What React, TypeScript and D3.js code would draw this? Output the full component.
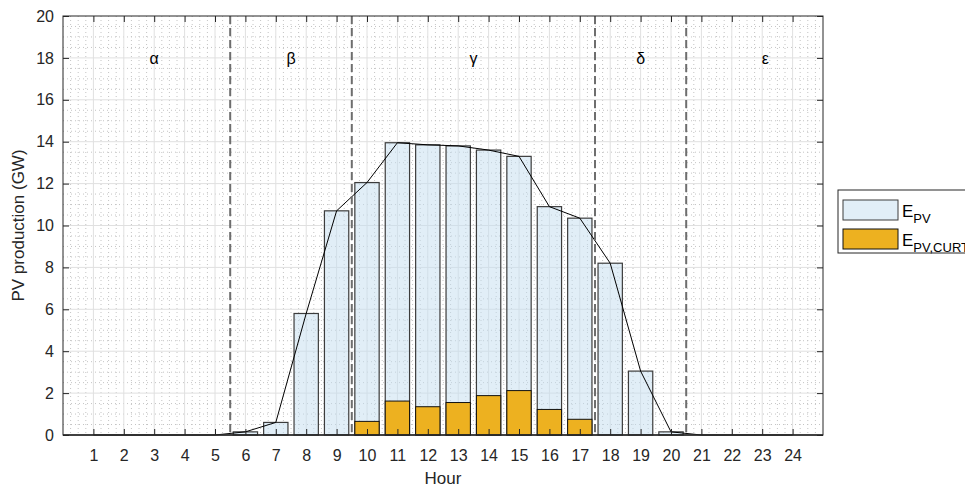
import React, { useRef, useEffect } from 'react';
import * as d3 from 'd3';

// hourly PV production (GW)
const hours = d3.range(1, 25);
const pvProduction = [0, 0, 0, 0, 0, 0.15, 0.6, 5.8, 10.7, 12.05, 13.95, 13.85, 13.8, 13.6, 13.3, 10.9, 10.35, 8.2, 3.05, 0.15, 0, 0, 0, 0];
const pvCurtailed = [0, 0, 0, 0, 0, 0, 0, 0, 0, 0.65, 1.62, 1.35, 1.55, 1.88, 2.12, 1.22, 0.75, 0, 0, 0, 0, 0, 0, 0];
const phaseBounds = [5.5, 9.5, 17.5, 20.5];
const phaseLabels = ['α', 'β', 'γ', 'δ', 'ε'];
const phaseLabelPos = [3, 7.5, 13.5, 19, 23.1];
const yTicks = d3.range(0, 21, 2);

const App = () => {
  const svgRef = useRef<SVGSVGElement>(null);

  useEffect(() => {
    if (!svgRef.current) return;
    const svg = d3.select(svgRef.current);
    svg.selectAll('*').remove();

    const width = 965;
    const height = 488;
    const margin = { top: 16, right: 142, bottom: 53, left: 63 };
    const innerWidth = width - margin.left - margin.right;
    const innerHeight = height - margin.top - margin.bottom;
    const font = 'Liberation Sans, Arial, sans-serif';
    const axisColor = '#262626';

    const g = svg.append('g').attr('transform', `translate(${margin.left},${margin.top})`);

    const xScale = d3.scaleLinear().domain([0, 25]).range([0, innerWidth]);
    const yScale = d3.scaleLinear().domain([0, 20]).range([innerHeight, 0]);
    const step = xScale(1) - xScale(0);
    const barWidth = step * 0.8;

    // minor grid (dotted)
    g.append('g')
      .selectAll('line')
      .data(d3.range(0.25, 25, 0.25).filter(v => Math.abs(v - Math.round(v)) > 0.01))
      .join('line')
      .attr('x1', d => xScale(d)).attr('x2', d => xScale(d))
      .attr('y1', 0).attr('y2', innerHeight)
      .attr('stroke', '#c4c4c4')
      .attr('stroke-width', 1)
      .attr('stroke-dasharray', '1,3');

    g.append('g')
      .selectAll('line')
      .data(d3.range(0.5, 20, 0.5).filter(v => v % 2 !== 0))
      .join('line')
      .attr('x1', 0).attr('x2', innerWidth)
      .attr('y1', d => yScale(d)).attr('y2', d => yScale(d))
      .attr('stroke', '#c4c4c4')
      .attr('stroke-width', 1)
      .attr('stroke-dasharray', '1,3');

    // major grid
    g.append('g')
      .selectAll('line')
      .data(d3.range(1, 25))
      .join('line')
      .attr('x1', d => xScale(d)).attr('x2', d => xScale(d))
      .attr('y1', 0).attr('y2', innerHeight)
      .attr('stroke', '#e0e0e0')
      .attr('stroke-width', 1);

    g.append('g')
      .selectAll('line')
      .data(yTicks.slice(1, -1))
      .join('line')
      .attr('x1', 0).attr('x2', innerWidth)
      .attr('y1', d => yScale(d)).attr('y2', d => yScale(d))
      .attr('stroke', '#e0e0e0')
      .attr('stroke-width', 1);

    // E_PV bars (translucent, grid shows through)
    g.append('g')
      .selectAll('rect')
      .data(hours.map((h, i) => ({ h, v: pvProduction[i] })).filter(d => d.v > 0))
      .join('rect')
      .attr('x', d => xScale(d.h) - barWidth / 2)
      .attr('y', d => yScale(d.v))
      .attr('width', barWidth)
      .attr('height', d => yScale(0) - yScale(d.v))
      .attr('fill', 'rgba(196,222,240,0.5)')
      .attr('stroke', '#3c3c3c')
      .attr('stroke-width', 1.2);

    // curtailed bars
    g.append('g')
      .selectAll('rect')
      .data(hours.map((h, i) => ({ h, v: pvCurtailed[i] })).filter(d => d.v > 0))
      .join('rect')
      .attr('x', d => xScale(d.h) - barWidth / 2)
      .attr('y', d => yScale(d.v))
      .attr('width', barWidth)
      .attr('height', d => yScale(0) - yScale(d.v))
      .attr('fill', '#EDB120')
      .attr('stroke', '#111')
      .attr('stroke-width', 1);

    // profile line through bar tops
    const line = d3.line<number>()
      .x((_, i) => xScale(hours[i]))
      .y(d => yScale(d));
    g.append('path')
      .datum(pvProduction)
      .attr('fill', 'none')
      .attr('stroke', '#000')
      .attr('stroke-width', 1)
      .attr('d', line);

    // phase boundaries
    g.append('g')
      .selectAll('line')
      .data(phaseBounds)
      .join('line')
      .attr('x1', d => xScale(d)).attr('x2', d => xScale(d))
      .attr('y1', 0).attr('y2', innerHeight)
      .attr('stroke', '#6e6e6e')
      .attr('stroke-width', 2)
      .attr('stroke-dasharray', '8,4');

    g.append('g')
      .selectAll('text')
      .data(phaseLabels)
      .join('text')
      .attr('x', (_, i) => xScale(phaseLabelPos[i]))
      .attr('y', yScale(18))
      .attr('dy', '0.35em')
      .attr('text-anchor', 'middle')
      .attr('font-family', font)
      .attr('font-size', 16)
      .attr('fill', '#000')
      .text(d => d);

    // axes (ticks inward, mirrored on top/right)
    const tickLen = 6;
    const styleAxis = (sel: any) => {
      sel.select('.domain').remove();
      sel.selectAll('line').attr('stroke', axisColor);
      sel.selectAll('text').attr('font-family', font).attr('font-size', 16).attr('fill', axisColor);
    };

    g.append('g')
      .attr('transform', `translate(0,${innerHeight})`)
      .call(d3.axisBottom(xScale).tickValues(hours).tickSize(-tickLen).tickPadding(15).tickFormat(d3.format('d')))
      .call(styleAxis);

    g.append('g')
      .call(d3.axisTop(xScale).tickValues(hours).tickSize(-tickLen).tickFormat(() => ''))
      .call(styleAxis);

    g.append('g')
      .call(d3.axisLeft(yScale).tickValues(yTicks).tickSize(-tickLen).tickPadding(9).tickFormat(d3.format('d')))
      .call(styleAxis);

    g.append('g')
      .attr('transform', `translate(${innerWidth},0)`)
      .call(d3.axisRight(yScale).tickValues(yTicks).tickSize(-tickLen).tickFormat(() => ''))
      .call(styleAxis);

    g.append('rect')
      .attr('x', 0).attr('y', 0)
      .attr('width', innerWidth).attr('height', innerHeight)
      .attr('fill', 'none')
      .attr('stroke', axisColor)
      .attr('stroke-width', 1);
    g.append('line')
      .attr('x1', 0).attr('x2', innerWidth)
      .attr('y1', innerHeight).attr('y2', innerHeight)
      .attr('stroke', axisColor)
      .attr('stroke-width', 1.5);

    // axis labels
    svg.append('text')
      .attr('x', margin.left + innerWidth / 2)
      .attr('y', 484)
      .attr('text-anchor', 'middle')
      .attr('font-family', font)
      .attr('font-size', 17)
      .attr('fill', axisColor)
      .text('Hour');

    svg.append('text')
      .attr('transform', `translate(24,${margin.top + innerHeight / 2}) rotate(-90)`)
      .attr('text-anchor', 'middle')
      .attr('font-family', font)
      .attr('font-size', 17)
      .attr('fill', axisColor)
      .text('PV production (GW)');

    // legend
    const legend = svg.append('g').attr('transform', 'translate(838,190)');
    legend.append('rect')
      .attr('width', 160).attr('height', 63)
      .attr('fill', '#fff')
      .attr('stroke', axisColor)
      .attr('stroke-width', 1);
    const items = [
      { fill: 'rgba(196,222,240,0.5)', stroke: '#3c3c3c', sub: 'PV' },
      { fill: '#EDB120', stroke: '#111', sub: 'PV,CURT' },
    ];
    items.forEach((it, i) => {
      const y0 = 10 + i * 29;
      legend.append('rect')
        .attr('x', 5).attr('y', y0)
        .attr('width', 55).attr('height', 20)
        .attr('fill', it.fill)
        .attr('stroke', it.stroke)
        .attr('stroke-width', 1);
      const t = legend.append('text')
        .attr('x', 64).attr('y', y0 + 17)
        .attr('font-family', font)
        .attr('font-size', 17)
        .attr('fill', '#000');
      t.append('tspan').text('E');
      t.append('tspan').attr('dy', 6).attr('font-size', 13).text(it.sub);
    });
  }, []);

  return (
    <div style={{ position: 'absolute', left: 0, top: 0 }}>
      <svg ref={svgRef} width={965} height={488} style={{ display: 'block', background: '#fff' }} />
    </div>
  );
};

export default App;
